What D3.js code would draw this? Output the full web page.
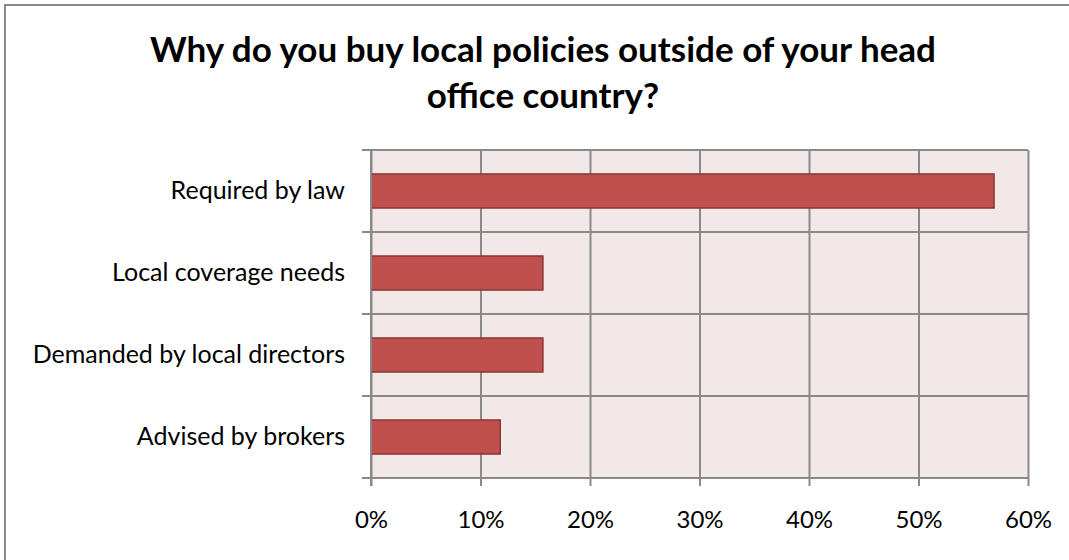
<!DOCTYPE html>
<html>
<head>
<meta charset="utf-8">
<script src="https://cdn.jsdelivr.net/npm/d3@7"></script>
<style>
  html, body { margin: 0; padding: 0; background: #fff; }
  svg { display: block; }
</style>
</head>
<body>
<svg id="chart" width="1069" height="560"></svg>
<script>
// Survey reasons, top to bottom
const categories = [
  "Required by law",
  "Local coverage needs",
  "Demanded by local directors",
  "Advised by brokers"
];
// Share of respondents per reason
const shares = [0.569, 0.157, 0.157, 0.118];
const tickValues = [0, 0.1, 0.2, 0.3, 0.4, 0.5, 0.6];
const titleLines = ["Why do you buy local policies outside of your head", "office country?"];

const svg = d3.select("#chart");
const W = 1069, H = 560;
const plot = { left: 371, right: 1028, top: 150, bottom: 478 };
const gridColor = "#898989";
const font = "Lato, 'Open Sans', sans-serif";

// Outer chart frame
svg.append("rect")
  .attr("x", 5).attr("y", 5)
  .attr("width", W + 10).attr("height", H + 10)
  .attr("fill", "#fff")
  .attr("stroke", gridColor).attr("stroke-width", 2);

// Title
svg.append("text")
  .attr("x", 543).attr("y", 62)
  .attr("text-anchor", "middle")
  .attr("font-family", font)
  .attr("font-weight", "bold")
  .attr("font-size", 35)
  .attr("fill", "#000")
  .selectAll("tspan").data(titleLines).join("tspan")
  .attr("x", 543)
  .attr("dy", (d, i) => i === 0 ? 0 : 46)
  .text(d => d);

const x = d3.scaleLinear().domain([0, 0.6]).range([plot.left, plot.right]);
const p = 0.585;
const y = d3.scaleBand().domain(categories)
  .range([plot.top, plot.bottom])
  .paddingInner(p).paddingOuter(p / 2);

// Plot background
svg.append("rect")
  .attr("x", plot.left).attr("y", plot.top)
  .attr("width", plot.right - plot.left).attr("height", plot.bottom - plot.top)
  .attr("fill", "#F2E8E7");

// Category boundaries (horizontal gridlines)
const step = y.step();
const bounds = d3.range(categories.length + 1).map(i => plot.top + i * step);
svg.append("g").selectAll("line").data(bounds).join("line")
  .attr("x1", plot.left - 9).attr("x2", plot.right)
  .attr("y1", d => d).attr("y2", d => d)
  .attr("stroke", gridColor).attr("stroke-width", 2);

// Vertical gridlines + x axis
const xAxis = d3.axisBottom(x)
  .tickValues(tickValues)
  .tickFormat(d3.format(".0%"))
  .tickSize(-(plot.bottom - plot.top))
  .tickSizeOuter(0);
const gx = svg.append("g")
  .attr("transform", `translate(0,${plot.bottom})`)
  .call(xAxis);
gx.select(".domain").remove();
gx.selectAll(".tick line")
  .attr("y1", 8)
  .attr("stroke", gridColor).attr("stroke-width", 2);
gx.selectAll(".tick text")
  .attr("y", 50).attr("dy", 0)
  .attr("font-family", font)
  .attr("font-size", 24)
  .attr("fill", "#000");

// Bars
svg.append("g").selectAll("rect").data(categories).join("rect")
  .attr("x", x(0))
  .attr("y", d => y(d))
  .attr("width", (d, i) => x(shares[i]) - x(0))
  .attr("height", y.bandwidth())
  .attr("fill", "#C0504D")
  .attr("stroke", "#8A3634").attr("stroke-width", 1.5);

// Category axis
const yAxis = d3.axisLeft(y).tickSize(0).tickPadding(26);
const gy = svg.append("g")
  .attr("transform", `translate(${plot.left},0)`)
  .call(yAxis);
gy.select(".domain").remove();
gy.selectAll(".tick text")
  .attr("font-family", font)
  .attr("font-size", 25)
  .attr("fill", "#000");
svg.append("line")
  .attr("x1", plot.left).attr("x2", plot.left)
  .attr("y1", plot.top).attr("y2", plot.bottom + 8)
  .attr("stroke", gridColor).attr("stroke-width", 2);
</script>
</body>
</html>
